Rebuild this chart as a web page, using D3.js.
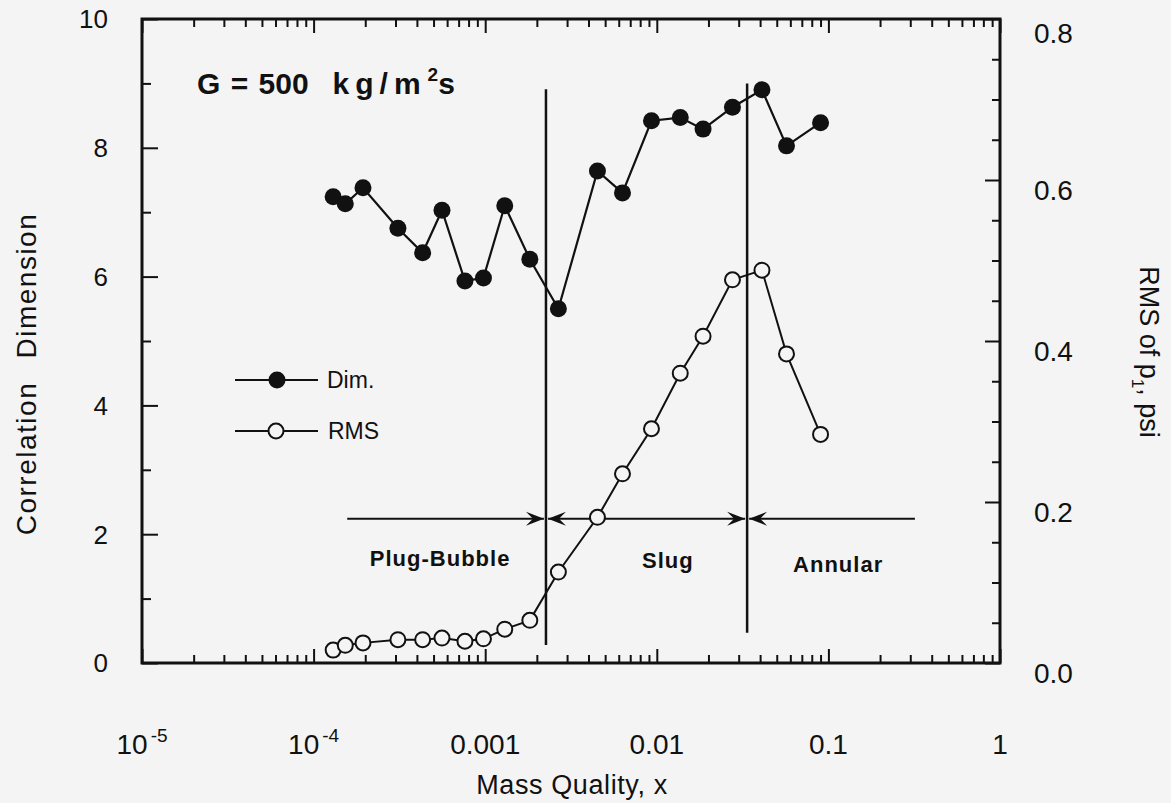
<!DOCTYPE html>
<html><head><meta charset="utf-8">
<script src="https://cdn.jsdelivr.net/npm/d3@7"></script>
<style>
html,body{margin:0;padding:0;background:#f4f4f4;}
svg{display:block;font-family:"Liberation Sans",Arial,Helvetica,sans-serif;}
</style></head>
<body><svg id="c" width="1171" height="803"></svg>
<script>
// ---- data ----
const massQuality = [1.30e-4, 1.53e-4, 1.94e-4, 3.10e-4, 4.32e-4, 5.60e-4, 7.62e-4, 9.77e-4, 1.30e-3, 1.82e-3,
                     2.67e-3, 4.51e-3, 6.31e-3, 9.31e-3, 1.37e-2, 1.86e-2, 2.76e-2, 4.10e-2, 5.70e-2, 9.0e-2];
const dimValues = [7.24, 7.13, 7.38, 6.75, 6.37, 7.03, 5.93, 5.98, 7.10, 6.27,
                   5.50, 7.64, 7.30, 8.42, 8.47, 8.29, 8.63, 8.90, 8.03, 8.39];
const rmsValues = [0.016, 0.022, 0.025, 0.029, 0.029, 0.031, 0.027, 0.030, 0.042, 0.053,
                   0.113, 0.181, 0.235, 0.291, 0.360, 0.406, 0.476, 0.488, 0.384, 0.284];
const xTickValues = [1e-5, 1e-4, 1e-3, 1e-2, 1e-1, 1];
const xTickLabels = [["10", "-5"], ["10", "-4"], ["0.001", ""], ["0.01", ""], ["0.1", ""], ["1", ""]];
const leftTicks = [0, 2, 4, 6, 8, 10];
const rightTicks = [0.0, 0.2, 0.4, 0.6, 0.8];
const boundaryX = [2.26e-3, 3.36e-2];
const boundaryTop = [8.91, 9.0];
const boundaryBottom = [0.28, 0.47];
const regionNames = ["Plug-Bubble", "Slug", "Annular"];
const regionStart = [1.57e-4, 2.26e-3, 3.36e-2];
const regionEnd = [2.26e-3, 3.36e-2, 0.328];
const regionArrowY = 2.24;
const regionLabelX = [5.46e-4, 1.16e-2, 0.114];
const regionLabelY = [1.63, 1.60, 1.54];

// ---- layout ----
const L = 142, R = 1000, T = 19, B = 663;
const svg = d3.select("#c");
svg.append("rect").attr("width", 1171).attr("height", 803).attr("fill", "#f4f4f4");

const x = d3.scaleLog().domain([1e-5, 1]).range([L, R]);
const yL = d3.scaleLinear().domain([0, 10]).range([B, T]);
const yR = d3.scaleLinear().domain([0, 0.8]).range([B, T]);

const ink = "#111";

// ticks: bottom & top (minor per decade)
const minorX = [];
for (let e = -5; e < 0; e++) for (let m = 1; m <= 9; m++) minorX.push(m * Math.pow(10, e));
minorX.push(1);
const isMajorX = v => Math.abs(Math.log10(v) - Math.round(Math.log10(v))) < 1e-9;

const gBottom = svg.append("g").attr("transform", `translate(0,${B})`)
  .call(d3.axisBottom(x).tickValues(minorX).tickFormat("").tickSizeOuter(0).tickSizeInner(0));
gBottom.select(".domain").remove();
gBottom.selectAll(".tick line").attr("y2", d => isMajorX(d) ? -14 : -8).attr("stroke", ink).attr("stroke-width", 2);

const gTop = svg.append("g").attr("transform", `translate(0,${T})`)
  .call(d3.axisTop(x).tickValues(minorX).tickFormat("").tickSizeOuter(0).tickSizeInner(0));
gTop.select(".domain").remove();
gTop.selectAll(".tick line").attr("y2", d => isMajorX(d) ? 14 : 8).attr("stroke", ink).attr("stroke-width", 2);

// left axis ticks
const leftAll = d3.range(0, 11, 1);
const gLeft = svg.append("g").attr("transform", `translate(${L},0)`)
  .call(d3.axisLeft(yL).tickValues(leftAll).tickFormat("").tickSizeOuter(0).tickSizeInner(0));
gLeft.select(".domain").remove();
gLeft.selectAll(".tick line").attr("x2", d => d % 2 === 0 ? 16 : 9).attr("stroke", ink).attr("stroke-width", 2);

// right axis ticks
const rightAll = d3.range(0, 16 + 1).map(i => i * 0.05);
const gRight = svg.append("g").attr("transform", `translate(${R},0)`)
  .call(d3.axisRight(yR).tickValues(rightAll).tickFormat("").tickSizeOuter(0).tickSizeInner(0));
gRight.select(".domain").remove();
gRight.selectAll(".tick line").attr("x2", (d, i) => i % 4 === 0 ? -15 : -8).attr("stroke", ink).attr("stroke-width", 2);

// frame
svg.append("rect").attr("x", L).attr("y", T).attr("width", R - L).attr("height", B - T)
  .attr("fill", "none").attr("stroke", ink).attr("stroke-width", 3);

// tick labels
svg.append("g").selectAll("text").data(leftTicks).join("text")
  .attr("x", 108).attr("y", d => yL(d)).attr("dy", "0.36em").attr("text-anchor", "end")
  .attr("font-size", 26).attr("fill", ink).text(d => d);
svg.append("g").selectAll("text").data(rightTicks).join("text")
  .attr("x", 1034).attr("y", (d, i) => yR(d) + 10 + (i === 4 ? 4 : 0)).attr("dy", "0.36em").attr("text-anchor", "start")
  .attr("font-size", 28).attr("fill", ink).text(d => d.toFixed(1));
const xl = svg.append("g").selectAll("text").data(xTickValues).join("text")
  .attr("x", d => x(d)).attr("y", 754).attr("text-anchor", "middle")
  .attr("font-size", 28).attr("fill", ink);
xl.each(function (d, i) {
  const t = d3.select(this);
  t.append("tspan").text(xTickLabels[i][0]);
  if (xTickLabels[i][1]) t.append("tspan").attr("dy", -12).attr("dx", 3).attr("font-size", 19).text(xTickLabels[i][1]);
});

// axis titles
svg.append("text").attr("x", 572).attr("y", 794).attr("text-anchor", "middle")
  .attr("font-size", 27).attr("letter-spacing", 0.6).attr("fill", ink).text("Mass Quality, x");
svg.append("text").attr("transform", "translate(36,374) rotate(-90)").attr("text-anchor", "middle")
  .attr("font-size", 28).attr("letter-spacing", 1.5).attr("word-spacing", 14).attr("fill", ink).text("Correlation Dimension");
const rt = svg.append("text").attr("transform", "translate(1140,352) rotate(90)").attr("text-anchor", "middle")
  .attr("font-size", 27).attr("fill", ink);
rt.append("tspan").text("RMS of p");
rt.append("tspan").attr("dy", 8).attr("font-size", 17).text("1");
rt.append("tspan").attr("dy", -8).text(", psi");

// title
const tt = svg.append("text").attr("x", 197).attr("y", 94).attr("font-size", 30).attr("font-weight", "bold").attr("fill", ink);
tt.append("tspan").attr("word-spacing", 2).text("G = 500");
tt.append("tspan").attr("dx", 24).attr("letter-spacing", 6).text("kg/m");
tt.append("tspan").attr("dy", -13).attr("dx", 1).attr("font-size", 19).text("2");
tt.append("tspan").attr("dy", 13).attr("dx", 0).text("s");

// boundaries
svg.append("g").selectAll("line").data(boundaryX).join("line")
  .attr("x1", d => x(d)).attr("x2", d => x(d))
  .attr("y1", (d, i) => yL(boundaryTop[i])).attr("y2", (d, i) => yL(boundaryBottom[i]))
  .attr("stroke", ink).attr("stroke-width", 2.5);

// region arrows
function arrowHead(px, py, dir) {
  const l = 18, w = 7, n = 11;
  return `M${px},${py} L${px - dir * l},${py - w} L${px - dir * n},${py} L${px - dir * l},${py + w} Z`;
}
const ay = yL(regionArrowY);
const gArr = svg.append("g");
regionNames.forEach((name, i) => {
  const x0 = x(regionStart[i]) + (i > 0 ? 2 : 0), x1 = x(regionEnd[i]) - 2;
  gArr.append("line").attr("x1", x0).attr("x2", x1).attr("y1", ay).attr("y2", ay)
    .attr("stroke", ink).attr("stroke-width", 2);
  if (i < 2) gArr.append("path").attr("d", arrowHead(x1, ay, 1)).attr("fill", ink);
  if (i > 0) gArr.append("path").attr("d", arrowHead(x0, ay, -1)).attr("fill", ink);
  gArr.append("text").attr("x", x(regionLabelX[i])).attr("y", yL(regionLabelY[i]) + 8)
    .attr("text-anchor", "middle").attr("font-size", 22).attr("font-weight", "bold")
    .attr("letter-spacing", 1).attr("fill", ink).text(name);
});

// series
const dimPts = massQuality.map((v, i) => [x(v), yL(dimValues[i])]);
const rmsPts = massQuality.map((v, i) => [x(v), yR(rmsValues[i])]);
svg.append("path").attr("d", d3.line()(rmsPts)).attr("fill", "none").attr("stroke", ink).attr("stroke-width", 2);
svg.append("g").selectAll("circle").data(rmsPts).join("circle")
  .attr("cx", d => d[0]).attr("cy", d => d[1]).attr("r", 7.5)
  .attr("fill", "#f4f4f4").attr("stroke", ink).attr("stroke-width", 2);
svg.append("path").attr("d", d3.line()(dimPts)).attr("fill", "none").attr("stroke", ink).attr("stroke-width", 2.2);
svg.append("g").selectAll("circle").data(dimPts).join("circle")
  .attr("cx", d => d[0]).attr("cy", d => d[1]).attr("r", 8.5).attr("fill", ink);

// legend
const lg = svg.append("g");
lg.append("line").attr("x1", 235).attr("x2", 318).attr("y1", 380).attr("y2", 380).attr("stroke", ink).attr("stroke-width", 2);
lg.append("circle").attr("cx", 277).attr("cy", 380).attr("r", 8.5).attr("fill", ink);
lg.append("text").attr("x", 327).attr("y", 388).attr("font-size", 23).attr("fill", ink).text("Dim.");
lg.append("line").attr("x1", 235).attr("x2", 318).attr("y1", 431).attr("y2", 431).attr("stroke", ink).attr("stroke-width", 2);
lg.append("circle").attr("cx", 276).attr("cy", 431).attr("r", 7.5).attr("fill", "#f4f4f4").attr("stroke", ink).attr("stroke-width", 2);
lg.append("text").attr("x", 328).attr("y", 439).attr("font-size", 23).attr("fill", ink).text("RMS");
</script></body></html>
